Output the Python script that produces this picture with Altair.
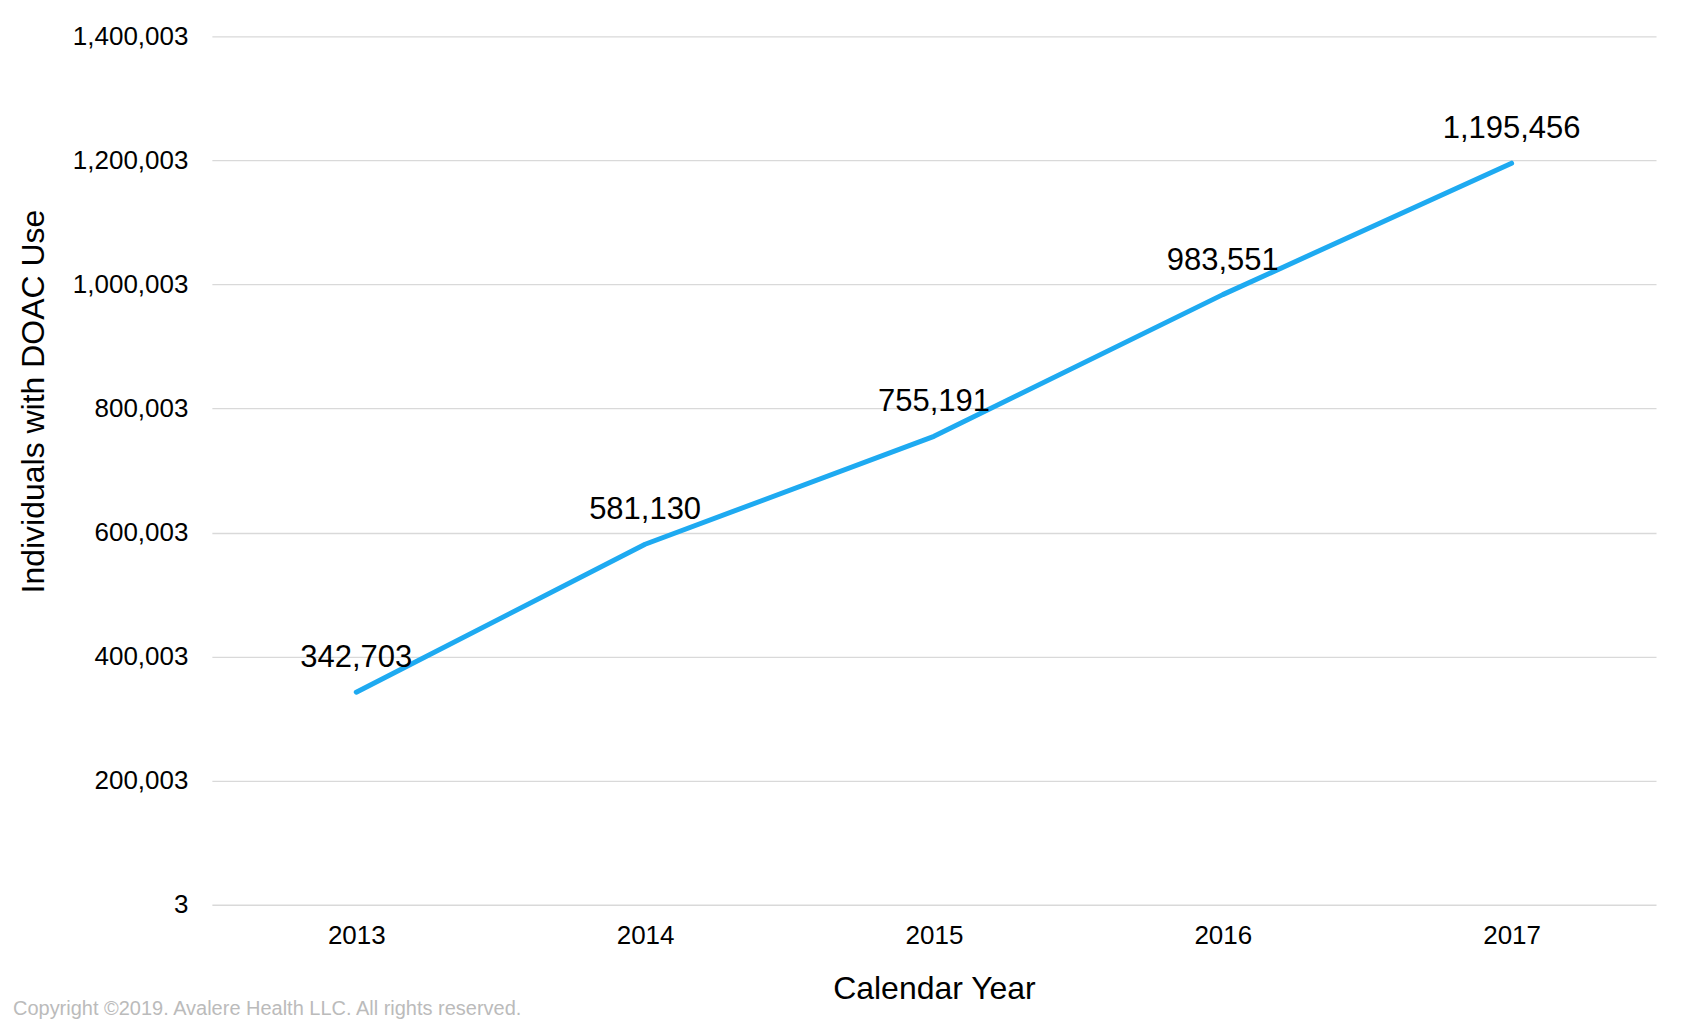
import altair as alt
import pandas as pd

years = ["2013", "2014", "2015", "2016", "2017"]
individuals = [342703, 581130, 755191, 983551, 1195456]
y_ticks = [3, 200003, 400003, 600003, 800003, 1000003, 1200003, 1400003]

df = pd.DataFrame({"year": years, "value": individuals})

FONT = "Liberation Sans"

base = alt.Chart(df).encode(
    x=alt.X(
        "year:O",
        sort=years,
        scale=alt.Scale(type="point", padding=0.5),
        axis=alt.Axis(
            title="Calendar Year",
            labelAngle=0,
            labelFontSize=26,
            labelFont=FONT,
            labelColor="#000000",
            labelPadding=18,
            ticks=False,
            tickSize=0,
            domain=False,
            grid=False,
            titleFontSize=32,
            titleFont=FONT,
            titleFontWeight="normal",
            titleColor="#000000",
            titleY=84,
            titleBaseline="middle",
        ),
    ),
    y=alt.Y(
        "value:Q",
        scale=alt.Scale(domain=[3, 1400003], nice=False, zero=False),
        axis=alt.Axis(
            title="Individuals with DOAC Use",
            values=y_ticks,
            format=",.0f",
            labelFontSize=26,
            labelFont=FONT,
            labelColor="#000000",
            labelPadding=24,
            ticks=False,
            tickSize=0,
            domain=False,
            grid=True,
            gridColor="#d9d9d9",
            gridWidth=1.3,
            titleFontSize=32,
            titleFont=FONT,
            titleFontWeight="normal",
            titleColor="#000000",
            titleX=-178,
            titleY=365,
            titleAngle=-90,
            titleBaseline="middle",
            titleAlign="center",
        ),
    ),
)

line = base.mark_line(color="#1EAAF1", strokeWidth=5, strokeCap="round", strokeJoin="round")

labels = base.mark_text(
    fontSize=31, font=FONT, color="#000000", baseline="middle", align="center", dy=-34
).encode(text=alt.Text("value:Q", format=",.0f"))

chart = (
    alt.layer(line, labels)
    .properties(
        width=1445,
        height=869,
        autosize=alt.AutoSizeParams(type="none"),
        padding={"left": 204, "top": 28, "right": 20, "bottom": 120},
        title=alt.TitleParams(
            text="Copyright ©2019. Avalere Health LLC. All rights reserved.",
            orient="bottom",
            anchor="start",
            frame="group",
            fontSize=20,
            font=FONT,
            fontWeight="normal",
            color="#bbbbbb",
            dx=-199,
            dy=-10,
        ),
    )
    .configure_view(stroke=None)
)

chart.save("out.html", embed_options={"renderer": "svg", "actions": False})
